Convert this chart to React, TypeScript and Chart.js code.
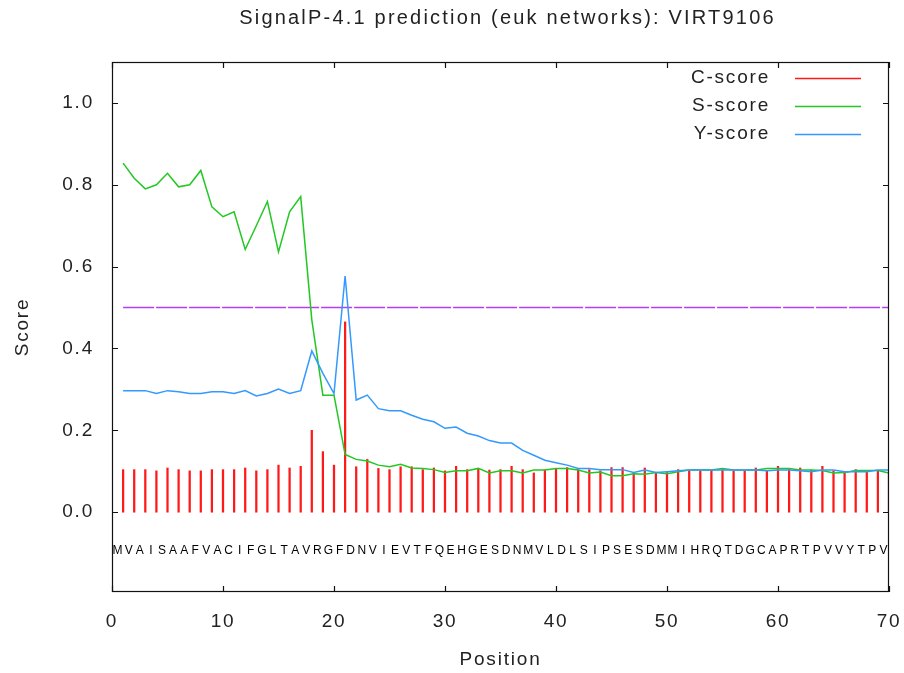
import { useEffect, useRef } from "react";
import { Chart, registerables } from "chart.js";
Chart.register(...registerables);

const titleText = "SignalP-4.1 prediction (euk networks): VIRT9106";
const sequence = "MVAISAAFVACIFGLTAVRGFDNVIEVTFQEHGESDNMVLDLSIPSESDMMIHRQTDGCAPRTPVVYTPV".split("");
const positions = sequence.map((_, i) => i + 1);

const cScore = [
  0.104, 0.104, 0.104, 0.101, 0.108, 0.104, 0.101, 0.101, 0.104, 0.104,
  0.104, 0.108, 0.101, 0.104, 0.115, 0.108, 0.112, 0.200, 0.148, 0.115,
  0.465, 0.111, 0.129, 0.107, 0.104, 0.111, 0.111, 0.104, 0.108, 0.101,
  0.112, 0.104, 0.107, 0.103, 0.104, 0.112, 0.104, 0.096, 0.103, 0.107,
  0.109, 0.104, 0.104, 0.101, 0.109, 0.109, 0.096, 0.108, 0.096, 0.097,
  0.104, 0.101, 0.101, 0.103, 0.104, 0.101, 0.101, 0.108, 0.101, 0.112,
  0.104, 0.108, 0.103, 0.112, 0.101, 0.099, 0.104, 0.101, 0.101, 0.100,
];
const sScore = [
  0.853, 0.816, 0.790, 0.800, 0.828, 0.795, 0.800, 0.835, 0.746, 0.722,
  0.734, 0.642, 0.700, 0.759, 0.636, 0.734, 0.771, 0.470, 0.286, 0.286,
  0.141, 0.129, 0.125, 0.115, 0.111, 0.117, 0.108, 0.107, 0.104, 0.097,
  0.101, 0.101, 0.107, 0.096, 0.101, 0.101, 0.096, 0.103, 0.103, 0.107,
  0.107, 0.103, 0.096, 0.098, 0.089, 0.089, 0.094, 0.093, 0.097, 0.094,
  0.099, 0.103, 0.103, 0.103, 0.107, 0.103, 0.103, 0.103, 0.107, 0.107,
  0.107, 0.103, 0.103, 0.102, 0.096, 0.097, 0.102, 0.102, 0.102, 0.096,
];
const yScore = [
  0.297, 0.297, 0.297, 0.290, 0.297, 0.294, 0.290, 0.290, 0.294, 0.294,
  0.290, 0.297, 0.284, 0.290, 0.301, 0.290, 0.297, 0.394, 0.339, 0.290,
  0.577, 0.274, 0.286, 0.253, 0.248, 0.248, 0.237, 0.227, 0.221, 0.205,
  0.208, 0.193, 0.186, 0.175, 0.169, 0.169, 0.151, 0.139, 0.127, 0.121,
  0.115, 0.107, 0.107, 0.104, 0.104, 0.104, 0.097, 0.103, 0.097, 0.099,
  0.101, 0.103, 0.103, 0.103, 0.103, 0.103, 0.103, 0.103, 0.101, 0.103,
  0.103, 0.101, 0.099, 0.103, 0.103, 0.099, 0.099, 0.099, 0.103, 0.103,
];
const thresholdX = [1, 70];
const thresholdY = [0.5, 0.5];
const xTicks = [0, 10, 20, 30, 40, 50, 60, 70];
const yTicks = [0, 0.2, 0.4, 0.6, 0.8, 1.0];
const legendLabels = ["C-score", "S-score", "Y-score"];

const RED = "#ff1a1a";
const GREEN = "#22c822";
const BLUE = "#3399ff";
const MAGENTA = "#b83cf0";
const TEXT = "#222222";
const FONT = "'Liberation Sans', Arial, sans-serif";

const gnuplotPlugin = {
  id: "gnuplotDecor",
  beforeDraw(chart: any) {
    (chart.ctx as any).letterSpacing = "1.8px";
  },
  afterDatasetsDraw(chart: any) {
    const { ctx, chartArea, scales } = chart;
    const x = scales.x;
    const y = scales.y;
    ctx.save();
    (ctx as any).letterSpacing = "0px";
    ctx.fillStyle = "#000";
    ctx.font = `12px ${FONT}`;
    ctx.textAlign = "center";
    ctx.textBaseline = "middle";
    const ly = y.getPixelForValue(-0.093);
    sequence.forEach((ch, i) => {
      ctx.fillText(ch, x.getPixelForValue(positions[i] - 0.5), ly);
    });
    ctx.restore();

    // frame + inward ticks
    ctx.save();
    ctx.strokeStyle = "#111";
    ctx.lineWidth = 1.2;
    const { left, right, top, bottom } = chartArea;
    ctx.strokeRect(left + 0.5, top + 0.5, right - left - 1, bottom - top - 1);
    ctx.beginPath();
    xTicks.forEach((v) => {
      const px = Math.round(x.getPixelForValue(v)) + 0.5;
      ctx.moveTo(px, bottom);
      ctx.lineTo(px, bottom - 6);
      ctx.moveTo(px, top);
      ctx.lineTo(px, top + 6);
    });
    yTicks.forEach((v) => {
      const py = Math.round(y.getPixelForValue(v)) + 0.5;
      ctx.moveTo(left, py);
      ctx.lineTo(left + 6, py);
      ctx.moveTo(right, py);
      ctx.lineTo(right - 6, py);
    });
    ctx.stroke();
    ctx.restore();

    // title
    ctx.save();
    (ctx as any).letterSpacing = "2.2px";
    ctx.font = `20px ${FONT}`;
    ctx.fillStyle = TEXT;
    ctx.textAlign = "center";
    ctx.textBaseline = "middle";
    ctx.fillText(titleText, (left + right) / 2 + 7, 18);
    ctx.restore();

    // legend
    ctx.save();
    (ctx as any).letterSpacing = "1.8px";
    ctx.font = `19px ${FONT}`;
    ctx.fillStyle = TEXT;
    ctx.textAlign = "right";
    ctx.textBaseline = "middle";
    const colors = [RED, GREEN, BLUE];
    legendLabels.forEach((lab, i) => {
      const yy = top + 16 + i * 28;
      ctx.fillText(lab, 770, yy);
      ctx.strokeStyle = colors[i];
      ctx.lineWidth = 1.5;
      ctx.beginPath();
      ctx.moveTo(795, yy + 0.5);
      ctx.lineTo(861, yy + 0.5);
      ctx.stroke();
    });
    ctx.restore();
  },
};

export default function App() {
  const ref = useRef<HTMLCanvasElement | null>(null);
  useEffect(() => {
    document.body.style.margin = "0";
    const canvas = ref.current!;
    const font = { family: FONT, size: 19, weight: "normal" as const };
    const chart = new Chart(canvas, {
      type: "line",
      data: {
        datasets: [
          {
            type: "line",
            label: "Y-score",
            data: positions.map((p, i) => ({ x: p, y: yScore[i] })),
            borderColor: BLUE,
            borderWidth: 1.5,
            pointRadius: 0,
            tension: 0,
            order: 0,
          },
          {
            type: "line",
            label: "S-score",
            data: positions.map((p, i) => ({ x: p, y: sScore[i] })),
            borderColor: GREEN,
            borderWidth: 1.5,
            pointRadius: 0,
            tension: 0,
            order: 1,
          },
          {
            type: "bar",
            label: "C-score",
            data: positions.map((p, i) => ({ x: p, y: cScore[i] })),
            backgroundColor: RED,
            barThickness: 1.6,
            order: 2,
          } as any,
          {
            type: "line",
            label: "threshold",
            data: thresholdX.map((p, i) => ({ x: p, y: thresholdY[i] })),
            borderColor: MAGENTA,
            borderWidth: 1.5,
            borderDash: [31, 2],
            pointRadius: 0,
            order: 3,
          },
        ],
      },
      options: {
        responsive: false,
        animation: false,
        layout: { padding: { left: 0, right: 15, top: 62, bottom: 0 } },
        plugins: {
          legend: { display: false },
          tooltip: { enabled: false },
          title: { display: false },
        },
        scales: {
          x: {
            type: "linear",
            min: 0,
            max: 70,
            offset: false,
            grid: { display: false, drawTicks: false },
            border: { display: false },
            afterBuildTicks: (s: any) => {
              s.ticks = xTicks.map((v) => ({ value: v }));
            },
            ticks: { color: TEXT, font, padding: 18, maxRotation: 0, autoSkip: false },
            title: { display: true, text: "Position", color: TEXT, font, padding: { top: 0, bottom: 2 } },
            afterFit: (s: any) => {
              s.height = 81;
              s.paddingLeft = 0;
              s.paddingRight = 0;
            },
          },
          y: {
            type: "linear",
            min: -0.195,
            max: 1.1,
            grid: { display: false, drawTicks: false },
            border: { display: false },
            afterBuildTicks: (s: any) => {
              s.ticks = yTicks.map((v) => ({ value: v }));
            },
            ticks: {
              color: TEXT,
              font,
              padding: 18,
              autoSkip: false,
              callback: (v: any) => Number(v).toFixed(1),
            },
            title: { display: true, text: "Score", color: TEXT, font, padding: { top: 11, bottom: 0 } },
            afterFit: (s: any) => {
              s.width = 112;
              s.paddingTop = 0;
              s.paddingBottom = 0;
            },
          },
        },
      },
      plugins: [gnuplotPlugin],
    });
    return () => chart.destroy();
  }, []);
  return <canvas ref={ref} width={904} height={673} style={{ display: "block" }} />;
}
